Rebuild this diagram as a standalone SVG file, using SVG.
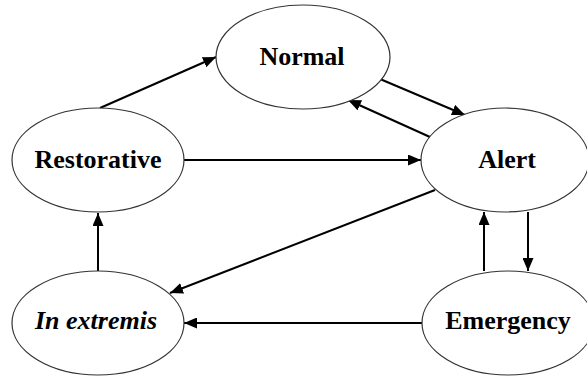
<svg xmlns="http://www.w3.org/2000/svg" width="587" height="376" viewBox="0 0 587 376">
  <style>
    .state { fill: #ffffff; stroke: #333333; stroke-width: 1.2; }
    .label { font-family: 'Liberation Serif', 'Times New Roman', Times, serif; font-size: 26px; font-weight: bold; fill: #000000; text-anchor: middle; }
    .italic { font-style: italic; }
    .edge { fill: none; stroke: #000000; stroke-width: 2; marker-end: url(#arrow); }
  </style>
  <defs>
    <marker id="arrow" viewBox="0 0 13 11" refX="13" refY="5.5" markerWidth="13" markerHeight="11" markerUnits="userSpaceOnUse" orient="auto">
      <path d="M0,0 L13,5.5 L0,11 Z" fill="#000000"/>
    </marker>
  </defs>
  <rect width="587" height="376" fill="#ffffff"/>

  <!-- transitions between operating states -->
  <g id="connectors">
    <line class="edge" x1="100" y1="108" x2="216" y2="57"/>
    <line class="edge" x1="380" y1="79" x2="465" y2="115"/>
    <line class="edge" x1="430" y1="137" x2="348" y2="100"/>
    <line class="edge" x1="184" y1="160" x2="421" y2="160"/>
    <line class="edge" x1="435" y1="190" x2="170" y2="293"/>
    <line class="edge" x1="98" y1="271" x2="98" y2="213"/>
    <line class="edge" x1="422" y1="323" x2="184" y2="323"/>
    <line class="edge" x1="484" y1="271" x2="484" y2="212"/>
    <line class="edge" x1="528" y1="212" x2="528" y2="271"/>
  </g>

  <g id="normal">
    <ellipse class="state" cx="303" cy="57" rx="87" ry="52"/>
    <text class="label" x="302" y="65">Normal</text>
  </g>
  <g id="restorative">
    <ellipse class="state" cx="98" cy="160" rx="86" ry="52"/>
    <text class="label" x="98" y="168">Restorative</text>
  </g>
  <g id="alert">
    <ellipse class="state" cx="505" cy="160" rx="84" ry="52"/>
    <text class="label" x="507" y="168">Alert</text>
  </g>
  <g id="in-extremis">
    <ellipse class="state" cx="98" cy="323" rx="86" ry="52"/>
    <text class="label italic" x="96" y="329">In extremis</text>
  </g>
  <g id="emergency">
    <ellipse class="state" cx="508" cy="323" rx="86" ry="52"/>
    <text class="label" x="508" y="329">Emergency</text>
  </g>
</svg>
